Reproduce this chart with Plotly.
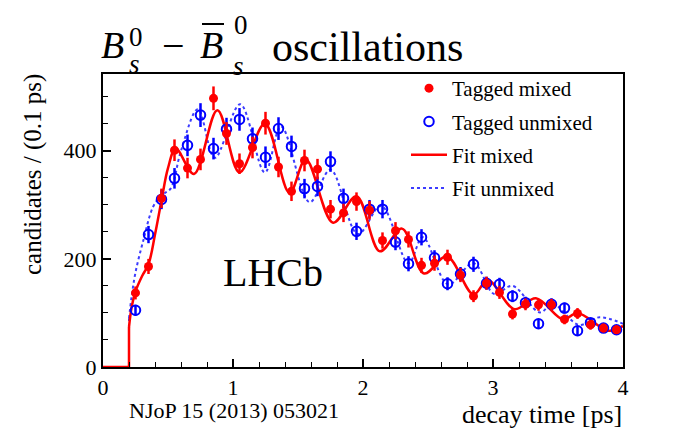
import plotly.graph_objects as go

# ---- data ----
bin_centers = [0.25, 0.35, 0.45, 0.55, 0.65, 0.75, 0.85, 0.95, 1.05, 1.15,
               1.25, 1.35, 1.45, 1.55, 1.65, 1.75, 1.85, 1.95, 2.05, 2.15,
               2.25, 2.35, 2.45, 2.55, 2.65, 2.75, 2.85, 2.95, 3.05, 3.15,
               3.25, 3.35, 3.45, 3.55, 3.65, 3.75, 3.85, 3.95]

mixed = [137, 186, 312, 401, 368, 384, 497, 432, 376, 406,
         451, 370, 325, 382, 366, 292, 285, 306, 290, 234,
         252, 236, 188, 192, 203, 170, 131, 155, 138, 98,
         116, 115, 115, 88, 99, 78, 72, 69]
mixed_err = [12, 14, 18, 20, 19, 20, 22, 21, 19, 20,
             21, 19, 18, 20, 19, 17, 17, 17, 17, 15,
             16, 15, 14, 14, 14, 13, 11, 12, 12, 10,
             11, 11, 11, 9, 10, 9, 8, 8]

unmixed = [105, 245, 310, 349, 410, 466, 404, 440, 458, 422,
           388, 441, 408, 330, 334, 380, 312, 251, 292, 292,
           231, 191, 240, 202, 154, 172, 190, 155, 153, 131,
           119, 80, 116, 109, 67, 82, 72, 69]
unmixed_err = [10, 16, 18, 19, 20, 22, 20, 21, 21, 21,
               20, 21, 20, 18, 18, 19, 18, 16, 17, 17,
               15, 14, 15, 14, 12, 13, 14, 12, 12, 11,
               11, 9, 11, 10, 8, 9, 8, 8]

# fit curves (read at their turning points)
fit_mixed_t = [0.2, 0.22, 0.25, 0.3, 0.35, 0.4, 0.45, 0.5, 0.56, 0.70, 0.88,
               1.05, 1.245, 1.435, 1.56, 1.77, 1.95, 2.13, 2.30, 2.47, 2.645,
               2.85, 2.96, 3.165, 3.33, 3.54, 3.65, 3.89, 4.0]
fit_mixed_n = [74, 110, 140, 168, 190, 245, 308, 368, 404, 357, 475,
               360, 450, 322, 384, 267, 316, 214, 256, 173, 205,
               134, 161, 107, 127, 88, 100, 67, 76]

fit_unmixed_t = [0.2, 0.22, 0.25, 0.31, 0.385, 0.45, 0.52, 0.6, 0.73, 0.86,
                 1.055, 1.245, 1.37, 1.59, 1.75, 1.96, 2.14, 2.35, 2.46,
                 2.655, 2.85, 3.01, 3.15, 3.36, 3.46, 3.66, 3.82, 4.0]
fit_unmixed_n = [90, 130, 175, 234, 296, 318, 330, 400, 477, 387,
                 486, 360, 445, 305, 365, 246, 298, 192, 240,
                 153, 192, 135, 150, 101, 117, 78, 92, 80]

acc_t = [0.0, 0.2, 0.2]   # zero-acceptance region before the turn-on
x_ticks = [0, 1, 2, 3, 4]
y_ticks = [0, 200, 400]

RED = "#ff0000"
BLUE = "#0000ff"
BLUE_LINE = "#3c3cff"
SERIF = "Liberation Serif"

# plot area in pixels
L, R, T, B = 103, 623, 74, 367
W, H = 678, 437


def px(x):
    return (x - L) / (R - L)


def py(y):
    return (B - y) / (B - T)


fig = go.Figure()

# step to zero before the acceptance turn-on
fig.add_trace(go.Scatter(x=acc_t, y=[0, 0, fit_unmixed_n[0]], mode="lines",
                         line=dict(color=BLUE_LINE, width=2, dash="dot"),
                         showlegend=False, hoverinfo="skip"))
fig.add_trace(go.Scatter(x=acc_t, y=[0, 0, fit_mixed_n[0]], mode="lines",
                         line=dict(color=RED, width=2.5),
                         showlegend=False, hoverinfo="skip"))

fig.add_trace(go.Scatter(x=fit_unmixed_t, y=fit_unmixed_n, mode="lines",
                         name="Fit unmixed", legendrank=4, legendgroup="d",
                         line=dict(color=BLUE_LINE, width=2, dash="dot",
                                   shape="spline", smoothing=1.0)))
fig.add_trace(go.Scatter(x=fit_mixed_t, y=fit_mixed_n, mode="lines",
                         name="Fit mixed", legendrank=3, legendgroup="c",
                         line=dict(color=RED, width=2.5,
                                   shape="spline", smoothing=1.0)))
fig.add_trace(go.Scatter(x=bin_centers, y=unmixed, mode="markers",
                         name="Tagged unmixed", legendrank=2, legendgroup="b",
                         marker=dict(symbol="circle-open", size=9.5, color=BLUE,
                                     line=dict(width=2, color=BLUE)),
                         error_y=dict(type="data", array=unmixed_err,
                                      color=BLUE, thickness=2.5, width=0)))
fig.add_trace(go.Scatter(x=bin_centers, y=mixed, mode="markers",
                         name="Tagged mixed", legendrank=1, legendgroup="a",
                         marker=dict(symbol="circle", size=9, color=RED),
                         error_y=dict(type="data", array=mixed_err,
                                      color=RED, thickness=2.5, width=0)))

ann = []
# title pieces
ann.append(dict(text="<i>B</i>", x=px(99), y=py(45), xanchor="left", yanchor="middle",
                font=dict(size=38, family=SERIF)))
ann.append(dict(text='<span style="font-size:27px">0</span><br>'
                     '<span style="font-size:27px"><i>s</i></span>',
                x=px(127), y=py(51), xanchor="left", yanchor="middle", align="left",
                font=dict(size=21, family=SERIF)))
ann.append(dict(text="\u2212", x=px(160), y=py(46), xanchor="left", yanchor="middle",
                font=dict(size=40, family=SERIF)))
ann.append(dict(text="<i>B</i>", x=px(198), y=py(45), xanchor="left", yanchor="middle",
                font=dict(size=38, family=SERIF)))
ann.append(dict(text="0", x=px(232), y=py(25), xanchor="left", yanchor="middle",
                font=dict(size=27, family=SERIF)))
ann.append(dict(text="<i>s</i>", x=px(231), y=py(66), xanchor="left", yanchor="middle",
                font=dict(size=27, family=SERIF)))
ann.append(dict(text="oscillations", x=px(270), y=py(47), xanchor="left", yanchor="middle",
                font=dict(size=42, family=SERIF)))
# axis titles and labels
ann.append(dict(text="candidates / (0.1 ps)", x=px(33), y=py(175), textangle=-90,
                xanchor="center", yanchor="middle", font=dict(size=25, family=SERIF)))
ann.append(dict(text="decay time [ps]", x=px(624), y=py(414), xanchor="right",
                yanchor="middle", font=dict(size=26, family=SERIF)))
ann.append(dict(text="NJoP 15 (2013) 053021", x=px(127), y=py(410), xanchor="left",
                yanchor="middle", font=dict(size=22, family=SERIF)))
ann.append(dict(text="LHCb", x=px(221), y=py(272), xanchor="left", yanchor="middle",
                font=dict(size=40, family=SERIF)))
for a in ann:
    a.update(xref="paper", yref="paper", showarrow=False, font_color="black")

shapes = [dict(type="line", xref="paper", yref="paper", x0=px(202), x1=px(224),
               y0=py(24), y1=py(24), line=dict(color="black", width=2))]

axis_common = dict(showline=True, linecolor="black", linewidth=2, mirror=True,
                   ticks="inside", ticklen=8, tickwidth=1.5, tickcolor="black",
                   showgrid=False, zeroline=False,
                   tickfont=dict(size=22, family=SERIF, color="black"))

fig.update_layout(
    width=W, height=H,
    margin=dict(l=L, r=W - R, t=T, b=H - B),
    paper_bgcolor="white", plot_bgcolor="white",
    showlegend=True,
    legend=dict(x=px(406), y=py(68), xanchor="left", yanchor="top",
                xref="paper", yref="paper",
                font=dict(size=21, family=SERIF, color="black"),
                bgcolor="rgba(0,0,0,0)", traceorder="grouped",
                tracegroupgap=3, itemwidth=36),
    xaxis=dict(range=[0, 4], tickvals=x_ticks, ticktext=[str(v) for v in x_ticks],
               minor=dict(dtick=0.2, ticks="inside", ticklen=5, tickwidth=1.2,
                          tickcolor="black", showgrid=False),
               **axis_common),
    yaxis=dict(range=[0, 542], tickvals=y_ticks, ticktext=[str(v) for v in y_ticks],
               minor=dict(dtick=50, ticks="inside", ticklen=5, tickwidth=1.2,
                          tickcolor="black", showgrid=False),
               **axis_common),
    annotations=ann, shapes=shapes,
)

fig.write_html("out.html", config={"displayModeBar": False},
               post_script="document.body.style.margin='0';")
